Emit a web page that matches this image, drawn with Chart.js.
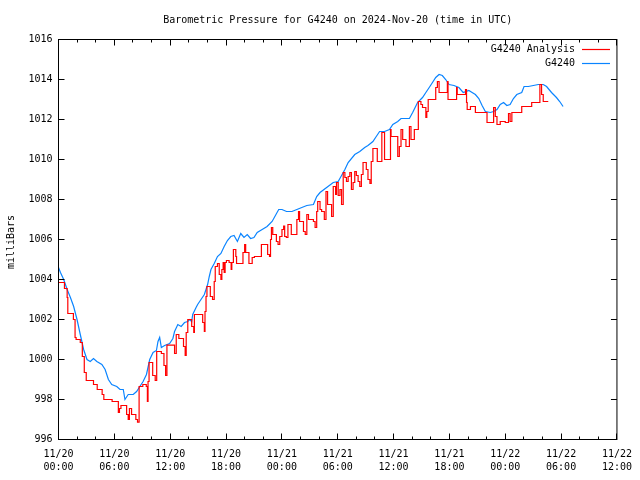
<!DOCTYPE html>
<html>
<head>
<meta charset="utf-8">
<script src="https://cdn.jsdelivr.net/npm/chart.js@4/dist/chart.umd.min.js"></script>
<style>
html,body{margin:0;padding:0;background:#ffffff;}
#wrap{width:640px;height:480px;}
canvas{display:block;}
</style>
</head>
<body>
<div id="wrap"><canvas id="c" width="640" height="480"></canvas></div>
<script>
// ---- Data (time = hours after 2024-11-20 00:00 UTC) ----
const titleText = 'Barometric Pressure for G4240 on 2024-Nov-20 (time in UTC)';
const yAxisTitle = 'milliBars';
const seriesNames = ['G4240 Analysis', 'G4240'];

const xTickHours = [0, 6, 12, 18, 24, 30, 36, 42, 48, 54, 60];
const xTickLabels = [
  ['11/20', '00:00'], ['11/20', '06:00'], ['11/20', '12:00'], ['11/20', '18:00'],
  ['11/21', '00:00'], ['11/21', '06:00'], ['11/21', '12:00'], ['11/21', '18:00'],
  ['11/22', '00:00'], ['11/22', '06:00'], ['11/22', '12:00']
];
const xMinorStepHours = 2;
const yTicks = [996, 998, 1000, 1002, 1004, 1006, 1008, 1010, 1012, 1014, 1016];

// G4240 observations (blue)
const obsHours = [
  0.00, 0.21, 0.56, 0.93, 1.28, 1.63, 1.99, 2.34, 2.70, 3.06, 3.41, 3.76, 4.12, 4.66, 5.01,
  5.36, 5.72, 6.26, 6.61, 6.96, 7.14, 7.49, 8.03, 8.39, 8.74, 9.09, 9.45, 9.80, 10.16, 10.52,
  10.69, 10.87, 11.05, 11.40, 11.94, 12.29, 12.47, 12.82, 13.18, 13.54, 13.89, 14.07, 14.31, 14.42, 14.78,
  14.95, 15.31, 15.67, 16.02, 16.20, 16.38, 16.73, 17.08, 17.45, 17.80, 18.15, 18.51, 18.86, 19.22, 19.58,
  19.93, 20.28, 20.64, 21.00, 21.35, 21.88, 22.41, 22.95, 23.66, 24.01, 24.50, 25.08, 25.61, 26.14, 26.68,
  27.39, 27.74, 28.10, 28.81, 29.52, 30.05, 30.59, 30.77, 31.12, 31.83, 32.37, 32.90, 33.25, 33.78, 34.14,
  34.50, 35.03, 35.56, 35.92, 36.45, 36.80, 37.70, 38.05, 38.58, 39.11, 39.47, 39.83, 40.18, 40.53, 40.89,
  41.24, 41.60, 41.96, 42.49, 43.02, 43.48, 44.09, 44.44, 44.79, 45.16, 45.51, 45.86, 46.39, 46.75, 47.11,
  47.46, 47.82, 48.17, 48.52, 48.88, 49.24, 49.77, 50.02, 50.48, 51.02, 51.55, 52.08, 52.44, 52.97, 53.50,
  53.85, 54.21
];
const obsValues = [
  1004.60, 1004.35, 1004.00, 1003.50, 1003.10, 1002.65, 1002.00, 1001.25, 1000.50, 1000.00, 999.90, 1000.05, 999.90, 999.75, 999.50,
  999.00, 998.75, 998.65, 998.50, 998.50, 998.00, 998.25, 998.25, 998.40, 998.65, 998.90, 999.25, 1000.00, 1000.35, 1000.45,
  1000.90, 1001.10, 1000.60, 1000.70, 1000.80, 1001.05, 1001.40, 1001.75, 1001.65, 1001.85, 1001.90, 1002.00, 1001.90, 1002.25, 1002.60,
  1002.75, 1003.00, 1003.25, 1003.75, 1004.15, 1004.50, 1004.80, 1005.15, 1005.30, 1005.65, 1005.95, 1006.15, 1006.20, 1005.90, 1006.30,
  1006.10, 1006.25, 1006.05, 1006.10, 1006.35, 1006.50, 1006.65, 1006.90, 1007.50, 1007.50, 1007.40, 1007.40, 1007.50, 1007.60, 1007.70,
  1007.75, 1008.15, 1008.35, 1008.60, 1008.85, 1008.90, 1009.35, 1009.50, 1009.85, 1010.25, 1010.40, 1010.60, 1010.70, 1010.90, 1011.15,
  1011.40, 1011.40, 1011.50, 1011.75, 1011.90, 1012.05, 1012.05, 1012.35, 1012.85, 1013.10, 1013.35, 1013.60, 1013.85, 1014.10, 1014.25,
  1014.20, 1014.00, 1013.75, 1013.70, 1013.60, 1013.35, 1013.45, 1013.35, 1013.25, 1013.05, 1012.70, 1012.40, 1012.35, 1012.40, 1012.50,
  1012.75, 1012.85, 1012.70, 1012.75, 1013.05, 1013.25, 1013.35, 1013.65, 1013.65, 1013.70, 1013.75, 1013.75, 1013.65, 1013.35, 1013.10,
  1012.90, 1012.65
];

// G4240 Analysis (red, stepped: each value holds until the next time)
const anaHours = [
  0.00, 0.64, 0.93, 1.00, 1.60, 1.78, 1.89, 2.34, 2.56, 2.77, 2.98, 3.76, 4.16, 4.69, 4.87,
  5.76, 6.43, 6.55, 6.71, 7.32, 7.49, 7.62, 7.85, 8.31, 8.49, 8.66, 9.06, 9.43, 9.55, 9.62,
  9.73, 10.12, 10.39, 10.55, 11.05, 11.33, 11.51, 11.65, 12.47, 12.65, 12.93, 13.43, 13.61, 13.72, 13.89,
  14.31, 14.53, 14.60, 15.49, 15.67, 15.74, 15.85, 15.95, 16.31, 16.55, 16.73, 16.84, 17.08, 17.27, 17.45,
  17.55, 17.69, 17.80, 17.90, 18.04, 18.33, 18.55, 18.62, 18.79, 19.05, 19.13, 19.82, 20.00, 20.11, 20.46,
  20.81, 21.05, 21.80, 22.47, 22.67, 22.78, 22.88, 23.02, 23.41, 23.59, 23.77, 24.01, 24.19, 24.30, 24.48,
  24.65, 25.01, 25.61, 25.79, 25.90, 26.32, 26.51, 26.68, 26.86, 27.39, 27.57, 27.74, 27.85, 28.10, 28.27,
  28.56, 28.74, 28.91, 29.34, 29.52, 29.77, 29.87, 30.05, 30.24, 30.41, 30.59, 30.77, 30.94, 31.12, 31.30,
  31.47, 31.65, 31.83, 32.00, 32.19, 32.37, 32.54, 32.72, 33.07, 33.25, 33.46, 33.60, 33.78, 34.25, 34.74,
  35.03, 35.67, 35.73, 36.45, 36.62, 36.80, 36.98, 37.33, 37.70, 37.87, 38.23, 38.66, 38.94, 39.11, 39.47,
  39.57, 39.72, 40.53, 40.71, 40.89, 41.78, 41.85, 42.77, 42.84, 43.73, 43.84, 43.91, 44.26, 44.79, 46.04,
  46.75, 46.93, 47.11, 47.46, 48.00, 48.35, 48.52, 48.71, 49.77, 50.84, 51.72, 51.90, 52.08, 52.62
];
const anaValues = [
  1003.85, 1003.55, 1003.10, 1002.30, 1002.00, 1001.10, 1001.00, 1000.85, 1000.15, 999.35, 998.95, 998.75, 998.50, 998.25, 998.00,
  997.90, 997.35, 997.55, 997.70, 997.25, 997.00, 997.55, 997.25, 997.00, 996.87, 998.65, 998.75, 998.65, 997.90, 998.90,
  999.85, 999.20, 998.95, 1000.40, 1000.30, 999.70, 999.20, 1000.72, 1000.30, 1001.25, 1001.05, 1000.65, 1000.20, 1001.35, 1002.00,
  1001.65, 1001.35, 1002.25, 1001.85, 1001.40, 1002.40, 1003.15, 1003.65, 1003.15, 1003.00, 1003.90, 1004.65, 1004.80, 1004.25, 1004.00,
  1004.50, 1004.85, 1004.35, 1004.85, 1004.95, 1004.85, 1004.50, 1004.85, 1005.50, 1005.15, 1004.80, 1005.35, 1005.75, 1005.35, 1004.80,
  1005.10, 1005.15, 1005.75, 1005.25, 1005.15, 1006.00, 1006.60, 1006.25, 1005.90, 1005.75, 1006.15, 1006.50, 1006.67, 1006.15, 1006.10,
  1006.75, 1006.25, 1007.00, 1007.40, 1006.90, 1006.40, 1006.25, 1007.25, 1007.00, 1006.90, 1006.60, 1007.40, 1007.90, 1007.50, 1007.40,
  1007.00, 1008.40, 1007.75, 1007.15, 1008.65, 1008.25, 1008.85, 1008.20, 1008.50, 1007.75, 1009.35, 1009.10, 1008.90, 1009.15, 1009.35,
  1008.50, 1008.85, 1009.40, 1009.20, 1008.90, 1008.65, 1009.25, 1009.85, 1009.50, 1009.00, 1008.80, 1009.90, 1010.55, 1009.90, 1011.35,
  1010.00, 1011.50, 1011.15, 1010.15, 1010.65, 1011.50, 1011.00, 1010.65, 1011.65, 1011.00, 1011.50, 1012.90, 1012.75, 1012.60, 1012.10,
  1012.40, 1013.00, 1013.60, 1013.90, 1013.35, 1013.90, 1013.00, 1013.60, 1013.25, 1013.50, 1012.85, 1012.50, 1012.65, 1012.35, 1011.85,
  1012.60, 1012.15, 1011.75, 1011.90, 1011.85, 1012.30, 1011.90, 1012.35, 1012.65, 1012.85, 1013.75, 1013.25, 1012.90, 1012.90
];

// ---- Chart ----
const FONT = '"DejaVu Sans Mono", "Liberation Mono", monospace';
const RED = '#ff0000';
const BLUE = '#0a84ff';

const toXY = (xs, ys) => xs.map((h, i) => ({ x: h, y: ys[i] }));

const decorPlugin = {
  id: 'decor',
  afterDraw(chart) {
    const { ctx, chartArea: a, scales } = chart;
    const xs = scales.x, ys = scales.y;
    ctx.save();
    ctx.strokeStyle = '#000';
    ctx.lineWidth = 1;
    // frame
    ctx.strokeRect(a.left, a.top, a.right - a.left, a.bottom - a.top);
    const snap = v => Math.round(v - 0.5) + 0.5;
    ctx.beginPath();
    // x ticks (major + minor), bottom & top, inward
    for (let h = xs.min; h <= xs.max + 1e-9; h += xMinorStepHours) {
      const px = snap(xs.getPixelForValue(h));
      const major = xTickHours.includes(h);
      const len = major ? 6 : 3;
      ctx.moveTo(px, a.bottom); ctx.lineTo(px, a.bottom - len);
      ctx.moveTo(px, a.top); ctx.lineTo(px, a.top + len);
    }
    // y ticks, left & right, inward
    yTicks.forEach(v => {
      const py = snap(ys.getPixelForValue(v));
      ctx.moveTo(a.left, py); ctx.lineTo(a.left + 6, py);
      ctx.moveTo(a.right, py); ctx.lineTo(a.right - 6, py);
    });
    ctx.stroke();

    // title
    ctx.fillStyle = '#000';
    ctx.font = '10px ' + FONT;
    ctx.textAlign = 'center';
    ctx.textBaseline = 'middle';
    ctx.fillText(titleText, (a.left + a.right) / 2, 20);

    // y-axis title
    ctx.save();
    ctx.translate(11, 242);
    ctx.rotate(-Math.PI / 2);
    ctx.fillText(yAxisTitle, 0, 0);
    ctx.restore();

    // legend (inside, top right)
    const colors = [RED, BLUE];
    seriesNames.forEach((name, i) => {
      const y = 49 + i * 14;
      ctx.fillStyle = '#000';
      ctx.textAlign = 'right';
      ctx.fillText(name, 575, y);
      ctx.strokeStyle = colors[i];
      ctx.lineWidth = 1.2;
      ctx.beginPath();
      ctx.moveTo(582, y + 0.5);
      ctx.lineTo(610, y + 0.5);
      ctx.stroke();
    });
    ctx.restore();
  }
};

new Chart(document.getElementById('c'), {
  type: 'line',
  data: {
    datasets: [
      {
        label: seriesNames[0],
        data: toXY(anaHours, anaValues),
        borderColor: RED,
        backgroundColor: RED,
        borderWidth: 1.2,
        pointRadius: 0,
        stepped: true,
        fill: false
      },
      {
        label: seriesNames[1],
        data: toXY(obsHours, obsValues),
        borderColor: BLUE,
        backgroundColor: BLUE,
        borderWidth: 1.2,
        pointRadius: 0,
        tension: 0,
        fill: false
      }
    ]
  },
  options: {
    responsive: false,
    animation: false,
    devicePixelRatio: 1,
    layout: { padding: { top: 39.5, right: 18.5, left: 0, bottom: 0 } },
    plugins: {
      legend: { display: false },
      title: { display: false },
      tooltip: { enabled: false }
    },
    scales: {
      x: {
        type: 'linear',
        min: 0,
        max: 60,
        grid: { display: false, drawTicks: false },
        border: { display: false },
        afterBuildTicks: s => { s.ticks = xTickHours.map(v => ({ value: v })); },
        afterFit: s => { s.height = 40.5; },
        ticks: {
          autoSkip: false,
          maxRotation: 0,
          minRotation: 0,
          padding: 8,
          color: '#000',
          font: { family: FONT, size: 10, lineHeight: 1.3 },
          callback: v => xTickLabels[xTickHours.indexOf(v)]
        }
      },
      y: {
        type: 'linear',
        min: 996,
        max: 1016,
        grid: { display: false, drawTicks: false },
        border: { display: false },
        afterBuildTicks: s => { s.ticks = yTicks.map(v => ({ value: v })); },
        afterFit: s => { s.width = 58.5; },
        ticks: {
          autoSkip: false,
          padding: 6,
          color: '#000',
          font: { family: FONT, size: 10 },
          callback: v => String(v)
        }
      }
    }
  },
  plugins: [decorPlugin]
});
</script>
</body>
</html>
